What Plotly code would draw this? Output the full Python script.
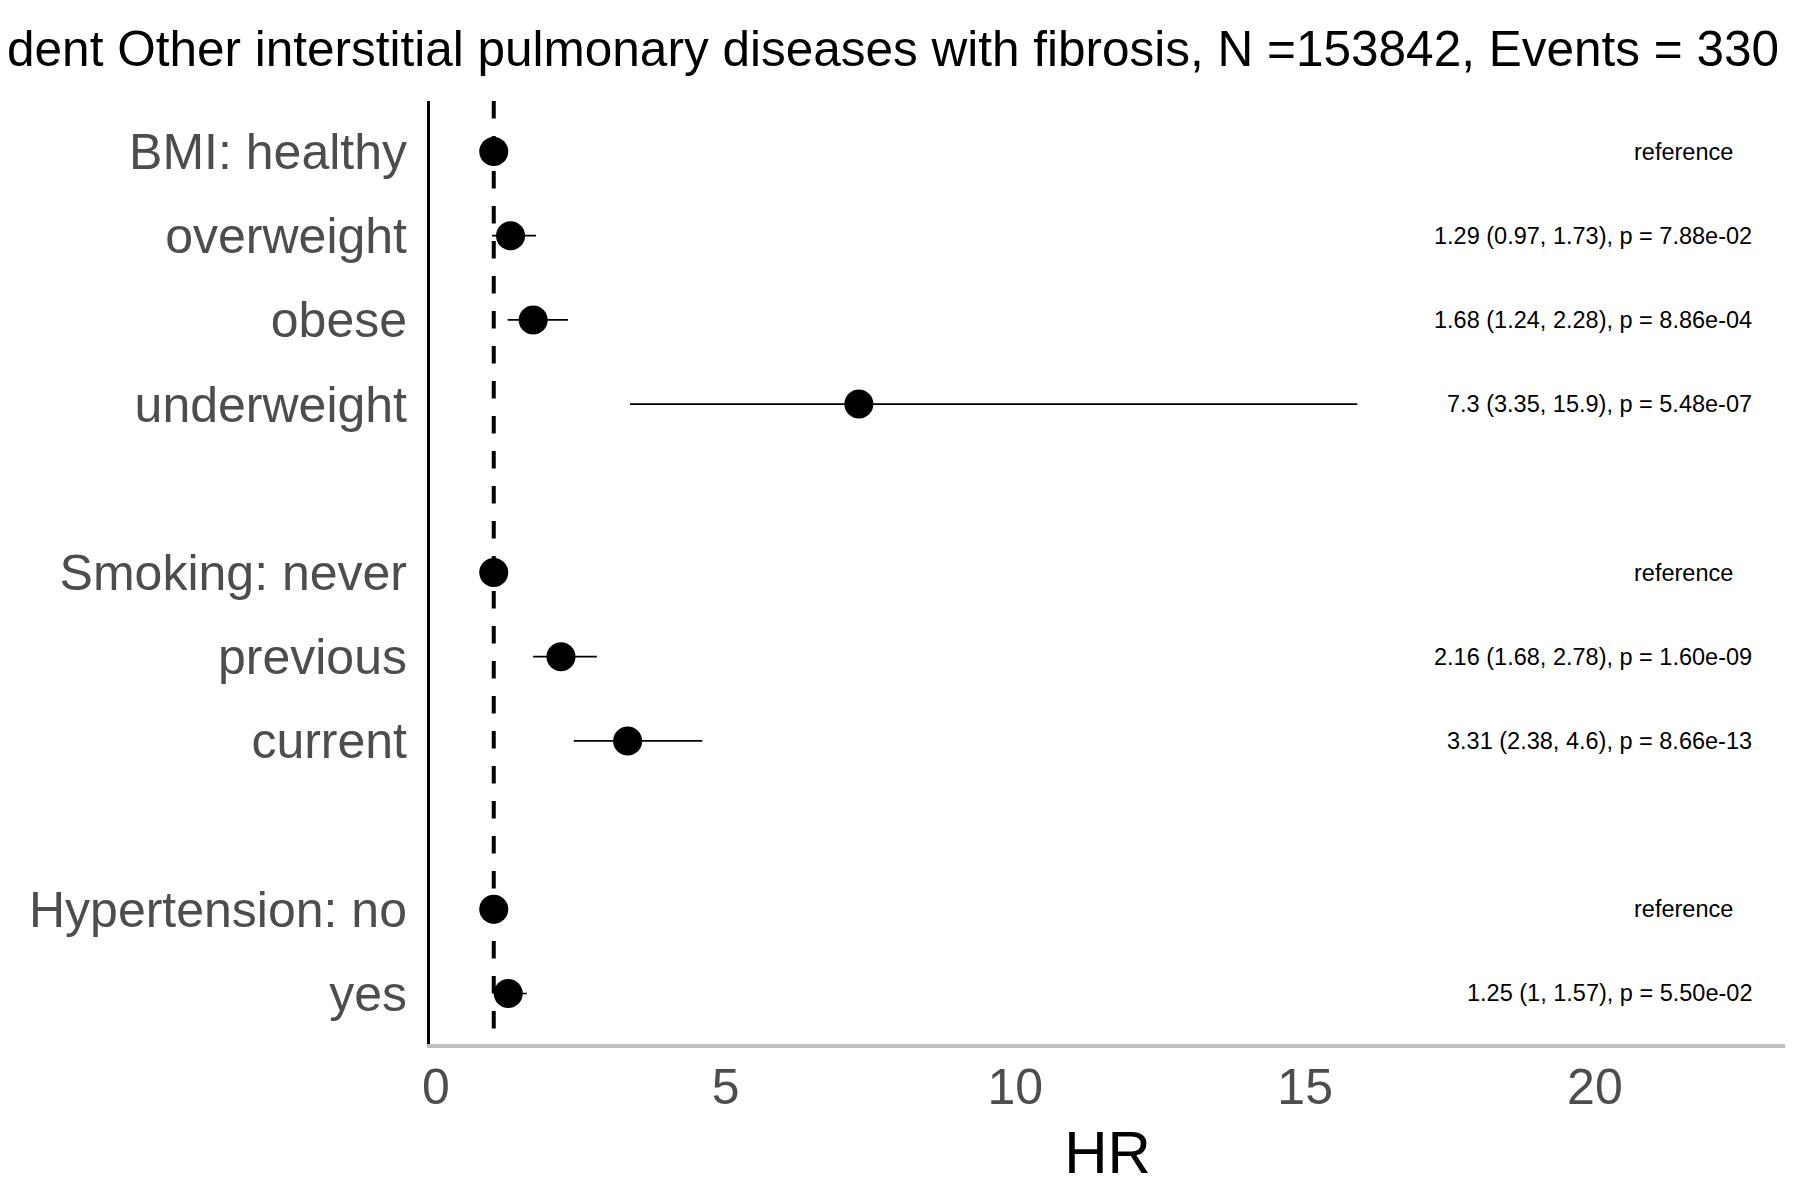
import plotly.graph_objects as go

# ---- data ----
rows = ["BMI: healthy", "overweight", "obese", "underweight", " ",
        "Smoking: never", "previous", "current", "  ",
        "Hypertension: no", "yes"]
labels = ["BMI: healthy", "overweight", "obese", "underweight",
          "Smoking: never", "previous", "current",
          "Hypertension: no", "yes"]
hr = [1, 1.29, 1.68, 7.3, 1, 2.16, 3.31, 1, 1.25]
lo = [1, 0.97, 1.24, 3.35, 1, 1.68, 2.38, 1, 1.00]
hi = [1, 1.73, 2.28, 15.9, 1, 2.78, 4.6, 1, 1.57]
is_ref = [True, False, False, False, True, False, False, True, False]
res_text = ["reference",
            "1.29 (0.97, 1.73), p = 7.88e-02",
            "1.68 (1.24, 2.28), p = 8.86e-04",
            "7.3 (3.35, 15.9), p = 5.48e-07",
            "reference",
            "2.16 (1.68, 2.78), p = 1.60e-09",
            "3.31 (2.38, 4.6), p = 8.66e-13",
            "reference",
            "1.25 (1, 1.57), p = 5.50e-02"]
x_ticks = [0, 5, 10, 15, 20]
title = "Incident Other interstitial pulmonary diseases with fibrosis, N =153842, Events = 330"
ref_line_x = 1
text_x_num = 22.74
text_x_ref = 21.52

FONT = "Liberation Sans, Arial, Helvetica, sans-serif"

fig = go.Figure()

fig.add_trace(go.Scatter(
    x=hr, y=labels, mode="markers",
    marker=dict(color="black", size=29, line=dict(width=0)),
    error_x=dict(type="data", symmetric=False,
                 array=[h - m for h, m in zip(hi, hr)],
                 arrayminus=[m - l for m, l in zip(hr, lo)],
                 color="black", thickness=1.7, width=0),
    showlegend=False, hoverinfo="skip",
))

# dashed reference line at HR = 1 (drawn from the top down)
fig.add_shape(type="line", xref="x", yref="paper",
              x0=ref_line_x, x1=ref_line_x, y0=1, y1=0,
              line=dict(color="black", width=4, dash="17.5px,17.5px"),
              layer="below")

for lab, txt, r in zip(labels, res_text, is_ref):
    fig.add_annotation(
        x=text_x_ref if r else text_x_num, y=lab, xref="x", yref="y",
        text=txt, showarrow=False,
        xanchor="center" if r else "right", yanchor="middle",
        font=dict(family=FONT, size=23.5, color="black"))

fig.update_layout(
    width=1800, height=1200,
    margin=dict(l=422, r=23, t=93, b=164),
    paper_bgcolor="white", plot_bgcolor="white",
    font=dict(family=FONT),
    title=dict(text=title, xref="container", yref="container",
               x=1771 / 1800, xanchor="right", y=1 - 40.5 / 1200, yanchor="middle",
               font=dict(family=FONT, size=49.5, color="black")),
)

fig.update_xaxes(
    range=[-0.1, 23.28], tickvals=x_ticks, ticktext=[str(t) for t in x_ticks],
    showgrid=False, zeroline=False,
    showline=True, linecolor="#BEBEBE", linewidth=4,
    ticks="", ticklabelstandoff=-4,
    tickfont=dict(family=FONT, size=50, color="#4D4D4D"),
    title=dict(text="HR", font=dict(family=FONT, size=60, color="black"), standoff=18),
)

fig.update_yaxes(
    type="category", categoryorder="array", categoryarray=rows,
    range=[10.6, -0.6],
    showgrid=False, zeroline=False,
    showline=True, linecolor="black", linewidth=3,
    ticks="outside", ticklen=10, tickcolor="rgba(0,0,0,0)",
    tickfont=dict(family=FONT, size=50, color="#4D4D4D"),
)

fig.write_html("out.html")
